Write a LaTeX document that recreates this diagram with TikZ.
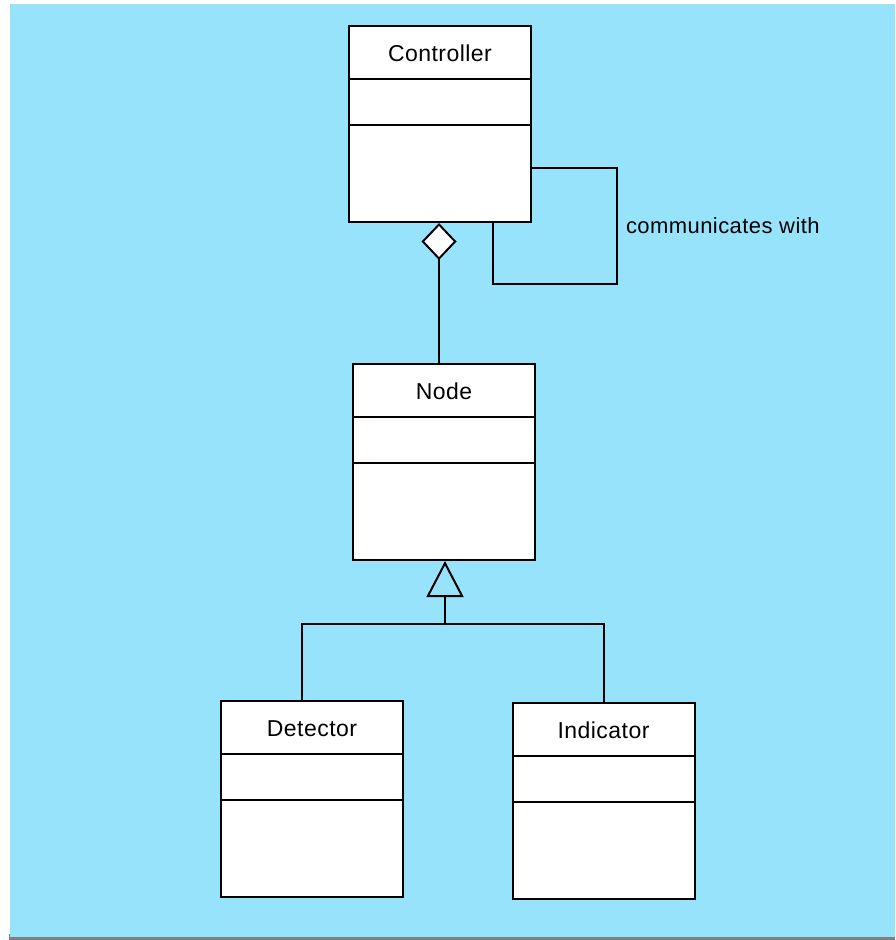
\documentclass[tikz,border=0pt]{standalone}
\usepackage{fontspec}
\setmainfont[LetterSpace=2]{Liberation Sans}
\usetikzlibrary{shapes,arrows.meta}
\definecolor{skyback}{RGB}{151,227,252}
\newcommand{\titlepart}[1]{\rule{0pt}{51pt}\raisebox{17pt}{#1}}
\newcommand{\attrpart}{\rule{0pt}{44pt}}
\newcommand{\oppart}{\rule{0pt}{95pt}}

\begin{document}
\begin{tikzpicture}[x=1pt,y=-1pt,line width=2pt]
\tikzstyle{umlclass}=[rectangle split,rectangle split parts=3,draw,fill=white,text width=182pt,inner sep=0pt,align=center,anchor=north,font=\fontsize{23}{27}\selectfont]
\tikzstyle{label}=[font=\fontsize{22}{26}\selectfont,inner sep=8pt]
\useasboundingbox (0,0) rectangle (895,940);
\fill[gray] (9,934) rectangle (895,940);
\fill[skyback] (10,4) rectangle (895,937);

\node[umlclass](Controller) at (440,25) {\titlepart{Controller} \nodepart{two} \attrpart \nodepart{three} \oppart};
\node[umlclass](Node) at (444,363) {\titlepart{Node} \nodepart{two} \attrpart \nodepart{three} \oppart};
\node[umlclass](Detector) at (312,700) {\titlepart{Detector} \nodepart{two} \attrpart \nodepart{three} \oppart};
\node[umlclass](Indicator) at (603.5,702) {\titlepart{Indicator} \nodepart{two} \attrpart \nodepart{three} \oppart};

% self association
\coordinate (loopA) at (617,168);
\coordinate (loopB) at (617,284);
\coordinate (loopC) at (493,284);
\draw (Controller.east |- loopA) -- (loopA) -- node[label,right]{communicates with} (loopB) -- (loopC) -- (loopC |- Controller.south);

% aggregation
\draw[-{Diamond[fill=white,length=37pt,width=35pt]}] (Node.north -| 439,0) -- (Controller.south -| 439,0);

% generalization
\coordinate (fork) at (445,624);
\coordinate (forkL) at (302,624);
\coordinate (forkR) at (604,624);
\draw[-{Triangle[open,length=36pt,width=37pt]}] (fork) -- (Node.south -| fork);
\draw (forkL |- Detector.north) -- (forkL) -- (forkR) -- (forkR |- Indicator.north);
\end{tikzpicture}
\end{document}
